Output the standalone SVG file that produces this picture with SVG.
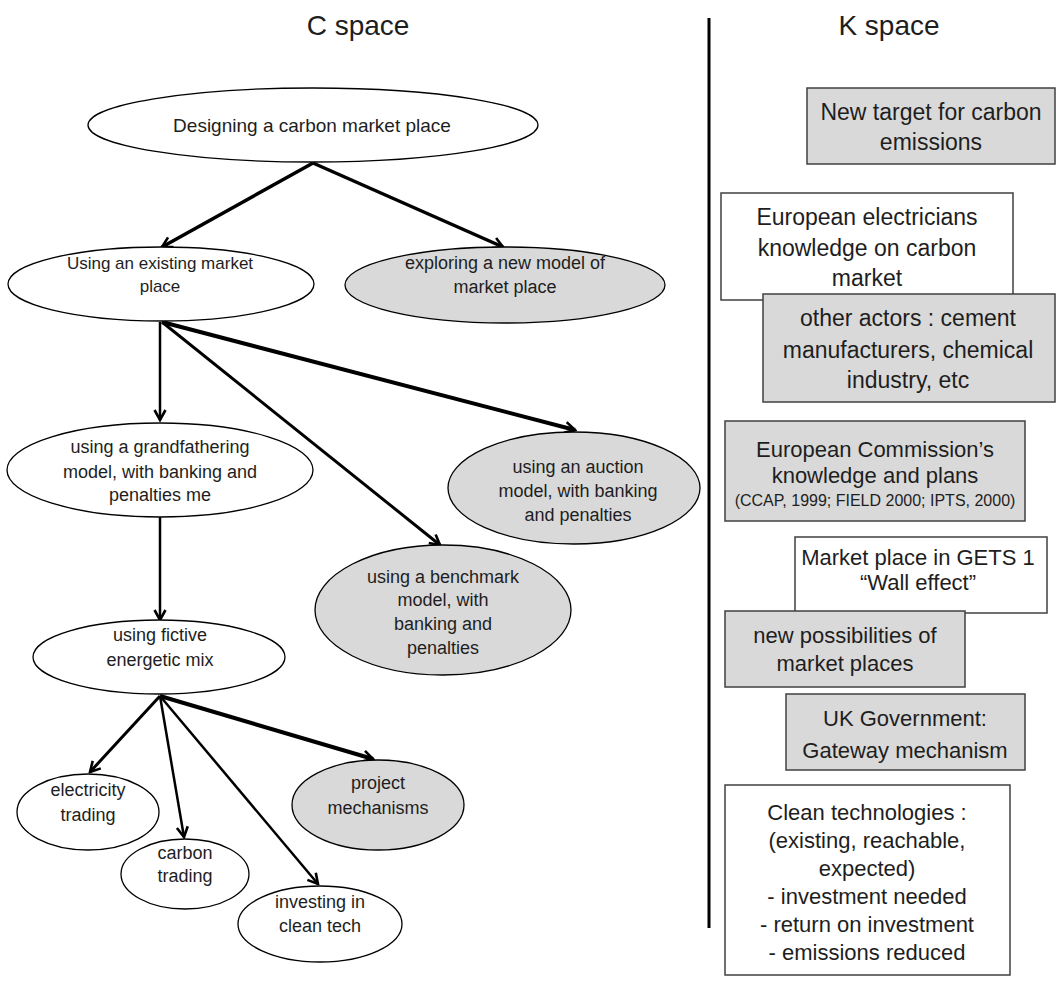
<svg xmlns="http://www.w3.org/2000/svg" width="1056" height="990" viewBox="0 0 1056 990">
<style>
text{font-family:"Liberation Sans",Arial,sans-serif;fill:#1e1e1e;text-anchor:middle}
.t{font-size:18px}
.b{font-size:23px}
.s{font-size:16px}
.title{font-size:28px}
.ew{fill:#fff;stroke:#000;stroke-width:1.3}
.eg{fill:#d9d9d9;stroke:#000;stroke-width:1.3}
.rw{fill:#fff;stroke:#404040;stroke-width:1.5}
.rg{fill:#d9d9d9;stroke:#404040;stroke-width:1.5}
.c{fill:none;stroke:#000;marker-end:url(#ah)}
</style>
<defs>
<marker id="ah" viewBox="0 0 14 14" refX="12" refY="7" markerWidth="14" markerHeight="14" markerUnits="userSpaceOnUse" orient="auto">
<path d="M2,1.5 L12,7 L2,12.5" fill="none" stroke="#000" stroke-width="2.6" stroke-linejoin="miter"/>
</marker>
</defs>
<g id="titles">
<text class="title" x="358" y="35">C space</text>
<text class="title" x="889" y="35">K space</text>
<line x1="709" y1="18" x2="709" y2="928" stroke="#000" stroke-width="3"/>
</g>
<g id="connectors">
<line class="c" x1="313" y1="163" x2="162" y2="247" stroke-width="3.5"/>
<line class="c" x1="313" y1="163" x2="503" y2="247" stroke-width="3.5"/>
<line class="c" x1="160" y1="322" x2="160" y2="420" stroke-width="2.5"/>
<line class="c" x1="162" y1="322" x2="440" y2="545" stroke-width="3"/>
<line class="c" x1="162" y1="322" x2="575" y2="430" stroke-width="4"/>
<line class="c" x1="160" y1="517" x2="160" y2="620" stroke-width="2.5"/>
<line class="c" x1="160" y1="696" x2="90" y2="772" stroke-width="3"/>
<line class="c" x1="160" y1="696" x2="184" y2="837" stroke-width="2.5"/>
<line class="c" x1="160" y1="696" x2="318" y2="884" stroke-width="2.5"/>
<line class="c" x1="160" y1="696" x2="373" y2="759" stroke-width="4"/>
</g>
<g id="n-designing">
<ellipse class="ew" cx="313" cy="125" rx="225" ry="37"/>
<text style="font-size:19px" x="312" y="132">Designing a carbon market place</text>
</g>
<g id="n-existing">
<ellipse class="ew" cx="161" cy="284" rx="153" ry="37"/>
<text style="font-size:17px" x="160" y="269">Using an existing market</text>
<text style="font-size:17px" x="160" y="292">place</text>
</g>
<g id="n-exploring">
<ellipse class="eg" cx="505" cy="285" rx="160" ry="38"/>
<text class="t" x="505" y="269">exploring a new model of</text>
<text class="t" x="505" y="293">market place</text>
</g>
<g id="n-grandfathering">
<ellipse class="ew" cx="160" cy="470" rx="153" ry="47"/>
<text class="t" x="160" y="453">using a grandfathering</text>
<text class="t" x="160" y="478">model, with banking and</text>
<text class="t" x="160" y="501">penalties me</text>
</g>
<g id="n-auction">
<ellipse class="eg" cx="574" cy="488" rx="126" ry="56"/>
<text class="t" x="578" y="473">using an auction</text>
<text class="t" x="578" y="497">model, with banking</text>
<text class="t" x="578" y="521">and penalties</text>
</g>
<g id="n-benchmark">
<ellipse class="eg" cx="443" cy="610" rx="128" ry="65"/>
<text class="t" x="443" y="583">using a benchmark</text>
<text class="t" x="443" y="606">model, with</text>
<text class="t" x="443" y="630">banking and</text>
<text class="t" x="443" y="654">penalties</text>
</g>
<g id="n-fictive">
<ellipse class="ew" cx="159" cy="657" rx="126" ry="37"/>
<text class="t" x="160" y="641">using fictive</text>
<text class="t" x="160" y="666">energetic mix</text>
</g>
<g id="n-electricity">
<ellipse class="ew" cx="88" cy="812" rx="71" ry="38"/>
<text class="t" x="88" y="796">electricity</text>
<text class="t" x="88" y="821">trading</text>
</g>
<g id="n-carbon">
<ellipse class="ew" cx="185" cy="874" rx="64" ry="35"/>
<text class="t" x="185" y="859">carbon</text>
<text class="t" x="185" y="882">trading</text>
</g>
<g id="n-investing">
<ellipse class="ew" cx="320" cy="924" rx="82" ry="38"/>
<text class="t" x="320" y="908">investing in</text>
<text class="t" x="320" y="932">clean tech</text>
</g>
<g id="n-project">
<ellipse class="eg" cx="378" cy="805" rx="86" ry="45"/>
<text class="t" x="378" y="789">project</text>
<text class="t" x="378" y="814">mechanisms</text>
</g>
<g id="k-target">
<rect class="rg" x="807" y="88" width="248" height="76"/>
<text class="b" x="931" y="120">New target for carbon</text>
<text class="b" x="931" y="150">emissions</text>
</g>
<g id="k-electricians">
<rect class="rw" x="721" y="193" width="292" height="107"/>
<text class="b" x="867" y="225">European electricians</text>
<text class="b" x="867" y="256">knowledge on carbon</text>
<text class="b" x="867" y="286">market</text>
</g>
<g id="k-actors">
<rect class="rg" x="763" y="294" width="292" height="108"/>
<text class="b" x="908" y="326">other actors : cement</text>
<text class="b" x="908" y="358">manufacturers, chemical</text>
<text class="b" x="908" y="388">industry, etc</text>
</g>
<g id="k-commission">
<rect class="rg" x="725" y="421" width="300" height="100"/>
<text style="font-size:22px" x="875" y="457">European Commission’s</text>
<text style="font-size:22px" x="875" y="483">knowledge and plans</text>
<text class="s" x="875" y="506">(CCAP, 1999; FIELD 2000; IPTS, 2000)</text>
</g>
<g id="k-gets">
<rect class="rw" x="795" y="537" width="252" height="76"/>
<text style="font-size:22px" x="918" y="565">Market place in GETS 1</text>
<text style="font-size:22px" x="918" y="590">“Wall effect”</text>
</g>
<g id="k-possibilities">
<rect class="rg" x="725" y="611" width="240" height="76"/>
<text style="font-size:22px" x="845" y="643">new possibilities of</text>
<text style="font-size:22px" x="845" y="671">market places</text>
</g>
<g id="k-uk">
<rect class="rg" x="786" y="694" width="239" height="76"/>
<text style="font-size:22px" x="905" y="726">UK Government:</text>
<text style="font-size:22px" x="905" y="758">Gateway mechanism</text>
</g>
<g id="k-clean">
<rect class="rw" x="725" y="785" width="285" height="190"/>
<text style="font-size:22px" x="867" y="820">Clean technologies :</text>
<text style="font-size:22px" x="867" y="848">(existing, reachable,</text>
<text style="font-size:22px" x="867" y="876">expected)</text>
<text style="font-size:22px" x="867" y="904">- investment needed</text>
<text style="font-size:22px" x="867" y="932">- return on investment</text>
<text style="font-size:22px" x="867" y="960">- emissions reduced</text>
</g>
</svg>
